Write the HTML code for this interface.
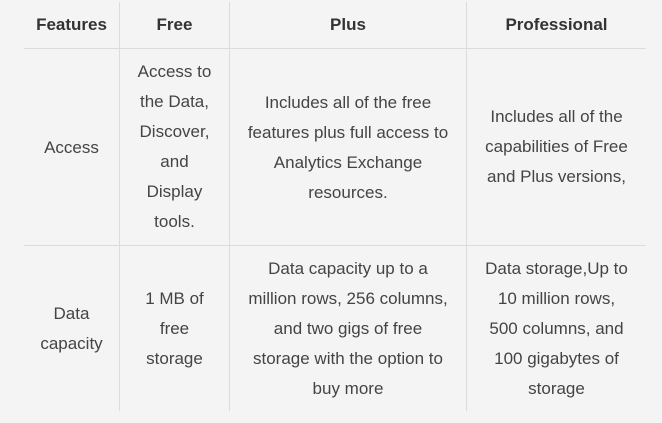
<!DOCTYPE html>
<html><head><style>
body{margin:0;width:662px;height:423px;background:#f4f4f4;font-family:"Liberation Sans",sans-serif;color:#444;position:relative;overflow:hidden}
.v{position:absolute;top:2px;height:409px;width:1px;background:#dcdcdc}
.h{position:absolute;left:24px;width:622px;height:1px;background:#dcdcdc}
.c{position:absolute;display:flex;align-items:center;justify-content:center;text-align:center;font-size:17px;line-height:30px;white-space:nowrap}
.hd{font-size:17px;font-weight:bold;color:#333;top:2px;height:46px}
</style></head><body>
<div class="v" style="left:119px"></div>
<div class="v" style="left:229px"></div>
<div class="v" style="left:466px"></div>
<div class="h" style="top:48px"></div>
<div class="h" style="top:245px"></div>

<div class="c hd" style="left:24px;width:95px">Features</div>
<div class="c hd" style="left:120px;width:109px">Free</div>
<div class="c hd" style="left:230px;width:236px">Plus</div>
<div class="c hd" style="left:467px;width:179px">Professional</div>

<div class="c" style="left:24px;width:95px;top:50px;height:196px">Access</div>
<div class="c" style="left:120px;width:109px;top:57px;height:180px">Access to<br>the Data,<br>Discover,<br>and<br>Display<br>tools.</div>
<div class="c" style="left:230px;width:236px;top:50px;height:196px">Includes all of the free<br>features plus full access to<br>Analytics Exchange<br>resources.</div>
<div class="c" style="left:467px;width:179px;top:57px;height:180px">Includes all of the<br>capabilities of Free<br>and Plus versions,</div>

<div class="c" style="left:24px;width:95px;top:254px;height:150px">Data<br>capacity</div>
<div class="c" style="left:120px;width:109px;top:254px;height:150px">1 MB of<br>free<br>storage</div>
<div class="c" style="left:230px;width:236px;top:254px;height:150px">Data capacity up to a<br>million rows, 256 columns,<br>and two gigs of free<br>storage with the option to<br>buy more</div>
<div class="c" style="left:467px;width:179px;top:254px;height:150px">Data storage,Up to<br>10 million rows,<br>500 columns, and<br>100 gigabytes of<br>storage</div>
</body></html>
